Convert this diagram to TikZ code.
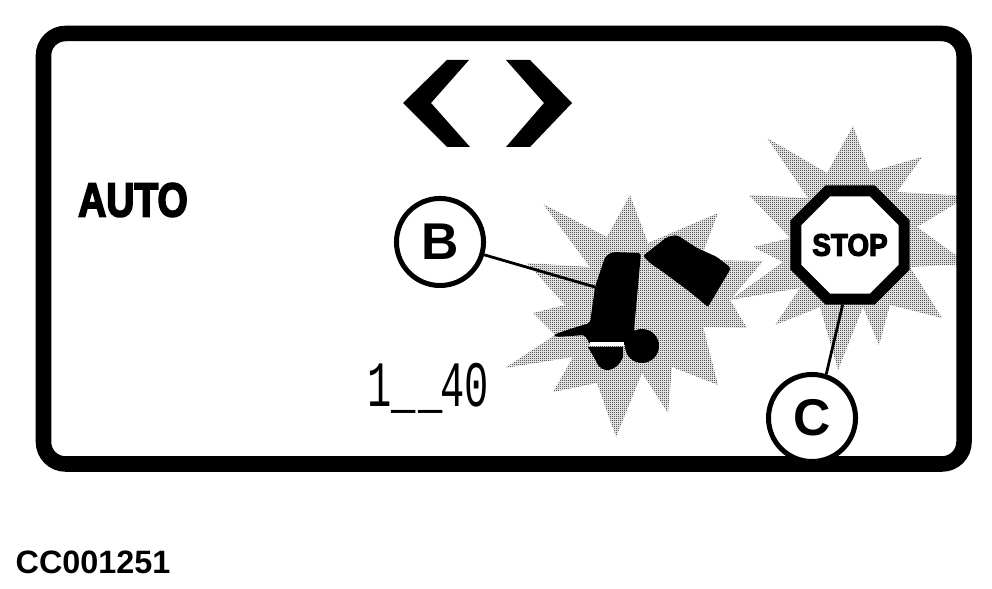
\documentclass[tikz,border=0pt]{standalone}
\usepackage{fontspec}
\usepackage{xcolor}
\usepackage{tikz}
\usetikzlibrary{patterns,shapes.geometric}
\setmainfont{Liberation Sans}
\newfontfamily\fatfont[BoldFeatures={FakeBold=4}]{Liberation Sans}
\newfontfamily\thinfont{Liberation Mono}
\pgfdeclarepatternformonly{burstdots}{\pgfpointorigin}{\pgfqpoint{0.5691pt}{0.5691pt}}{\pgfqpoint{0.5691pt}{0.5691pt}}{
    \pgfpathrectangle{\pgfpointorigin}{\pgfqpoint{0.295pt}{0.295pt}}
    \pgfpathrectangle{\pgfqpoint{0.2846pt}{0.2846pt}}{\pgfqpoint{0.295pt}{0.295pt}}
    \pgfusepath{fill}
}
\tikzset{
    callout/.style={circle,draw=black,fill=white,line width=0.05cm,minimum size=0.87cm,inner sep=0pt,font=\bfseries\fontsize{14.7}{16}\selectfont},
    leader/.style={line width=0.028cm},
    burst/.style={pattern=burstdots,pattern color=black}
}

\begin{document}
\begin{tikzpicture}[x=0.01cm,y=-0.01cm]
    \useasboundingbox (0,0) rectangle (992,589);

    % Burst behind the lever
    \path[burst] (630,195) -- (648,243) -- (718,213) -- (700,260) -- (763,261) -- (730,300) -- (747,328)
        -- (703,327) -- (718,385) -- (672,367) -- (668,413) -- (642,373) -- (616,437) -- (597,383)
        -- (553,392) -- (573,357) -- (505,368) -- (555,335) -- (533,313) -- (565,305) -- (527,263)
        -- (590,267) -- (543,204) -- (607,237) -- cycle;

    % Burst behind the stop sign
    \path[burst] (853,126) -- (870,172) -- (922,157) -- (897,192) -- (968,196) -- (917,227) -- (968,264)
        -- (910,267) -- (942,318) -- (890,305) -- (879,345) -- (863,307) -- (838,370) -- (820,307)
        -- (775,325) -- (800,288) -- (730,300) -- (783,262) -- (753,247) -- (790,238) -- (749,195)
        -- (808,198) -- (767,138) -- (827,173) -- cycle;

    % Lever body with its foot
    \fill[rounded corners=0.03cm] (605,257) -- (612,252) -- (641,253) -- (634,330) -- (640,345) -- (590,345)
        -- (585,335) -- (557,337) -- (553,335) -- (570,329) -- (590,323) -- (595,287) -- cycle;
    \fill (642,346) circle (0.17cm);
    \fill (588,347) -- (623,347) -- (623,357) .. controls (617,372) and (601,375) .. (596,361) -- cycle;
    \fill[white] (590,342) rectangle (624,346);

    % Lifted block beside the lever
    \fill[rounded corners=0.02cm] (643,256) -- (667,237) -- (677,235) -- (697,248) -- (717,257) -- (731,268)
        -- (708,307) -- (690,292) -- (663,272) -- (650,263) -- cycle;

    % Outer frame
    \draw[line width=0.155cm,rounded corners=0.22cm] (43.5,33.5) rectangle (964,464);

    % Arrows on top
    \fill (447,60) -- (469,60) -- (431,103) -- (470,147) -- (447,147) -- (403,103) -- cycle;
    \fill (506,60) -- (530,60) -- (572,103) -- (530,147) -- (506,147) -- (544,103) -- cycle;

    % Texts
    \node[font=\fatfont\bfseries\fontsize{13.5}{15}\selectfont,xscale=0.82,inner sep=0pt] (autotext) at (133,200) {AUTO};
    \node[font=\thinfont\fontsize{11.5}{13}\selectfont,yscale=1.6,inner sep=0pt] (countertext) at (428,388) {1\_\kern0.7pt\_\kern-0.7pt 40};
    \node[font=\bfseries\fontsize{9.2}{11}\selectfont,inner sep=0pt,anchor=west] (partnumber) at (15,562.5) {CC001251};

    % Stop sign
    \node[regular polygon,regular polygon sides=8,draw=black,fill=white,line width=0.11cm,minimum size=1.17cm,inner sep=0pt,
        font=\fatfont\bfseries\fontsize{8.8}{10}\selectfont] (stopsign) at (850,245) {\scalebox{0.9}[1]{STOP}};

    % Callouts and their leaders
    \coordinate (leverpoint) at (595,287);
    \node[callout] (calloutb) at (440,242) {B};
    \node[callout] (calloutc) at (812,418) {C};
    \draw[leader] (calloutb) -- (leverpoint);
    \draw[leader] (stopsign.-97) -- (calloutc.72);
\end{tikzpicture}
\end{document}
